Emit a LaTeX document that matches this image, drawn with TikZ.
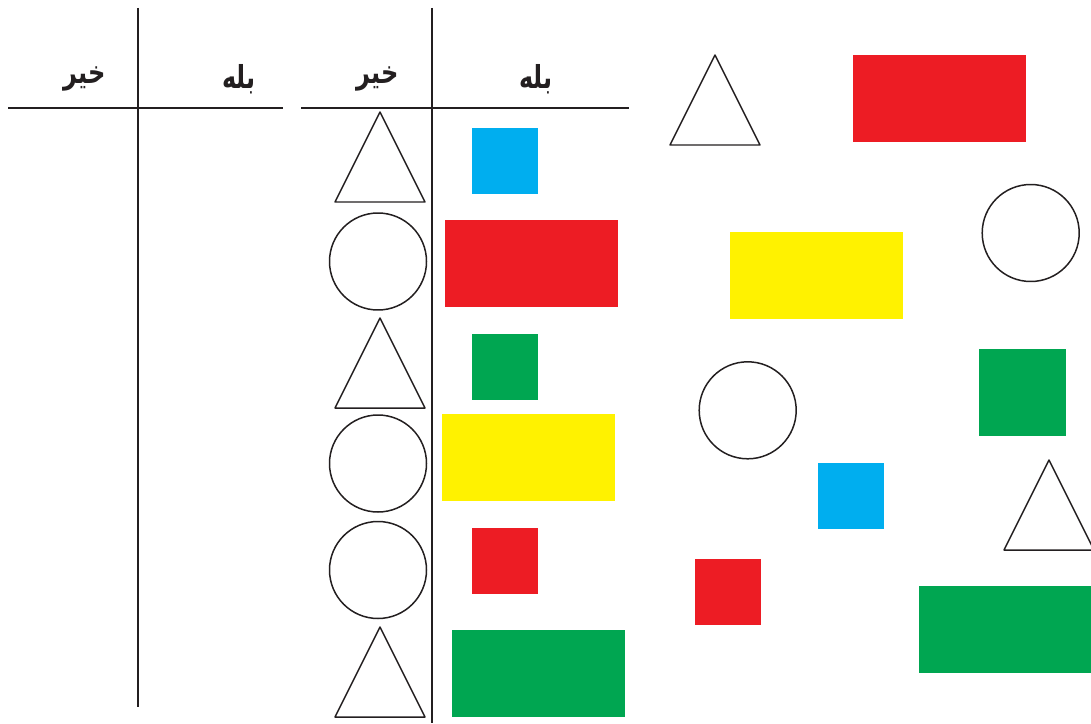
\documentclass[tikz,border=0pt]{standalone}
\usepackage{fontspec}
\newfontfamily\arabicfont[Script=Arabic]{DejaVu Sans}
\TeXXeTstate=1
\definecolor{sred}{HTML}{ED1C24}
\definecolor{syellow}{HTML}{FFF200}
\definecolor{sgreen}{HTML}{00A651}
\definecolor{sblue}{HTML}{00AEEF}
\definecolor{sline}{HTML}{231F20}
\tikzset{
  rule/.style={draw=sline, line width=1.1pt},
  outline/.style={draw=sline, line width=0.85pt, line join=round},
  head/.style={font=\arabicfont\bfseries\fontsize{18}{20}\selectfont, text=sline, inner sep=0pt},
}
\newcommand{\tri}[3]{% apex x, apex y, name
  \draw[outline] (#1,#2) coordinate (#3) -- ++(45,90) -- ++(-90,0) -- cycle;}
\newcommand{\hd}[1]{\scalebox{0.76}[1]{\beginR #1\endR}}
\begin{document}
\begin{tikzpicture}[x=0.02cm,y=-0.02cm]
\useasboundingbox (0,0) rectangle (1091,723);
\clip (0,0) rectangle (1091,723);
% tables
\draw[rule] (138,8) -- (138,707);
\draw[rule] (8,108) -- (283,108);
\draw[rule] (432,8) -- (432,723);
\draw[rule] (301,108) -- (629,108);
% headers
\node[head] (h1) at (85,79) {\hd{خیر}};
\node[head] (h2) at (239,79) {\hd{بله}};
\node[head] (h3) at (378,79) {\hd{خیر}};
\node[head] (h4) at (536,79) {\hd{بله}};
% right column of table
\tri{380}{112}{t1}
\draw[outline] (378,261.5) circle (48.5);
\tri{380}{318}{t2}
\draw[outline] (378,463.5) circle (48.5);
\draw[outline] (378,570) circle (48.5);
\tri{380}{627}{t3}
\fill[sblue] (472,128) rectangle (538,194);
\fill[sred] (445,220) rectangle (618,307);
\fill[sgreen] (472,334) rectangle (538,400);
\fill[syellow] (442,414) rectangle (615,501);
\fill[sred] (472,528) rectangle (538,594);
\fill[sgreen] (452,630) rectangle (625,717);
% loose shapes
\tri{715}{55}{t4}
\fill[sred] (853,55) rectangle (1026,142);
\draw[outline] (1030.7,233) circle (48.5);
\fill[syellow] (730,232) rectangle (903,319);
\draw[outline] (747.7,410.3) circle (48.5);
\fill[sgreen] (979,349) rectangle (1066,436);
\fill[sblue] (818,463) rectangle (884,529);
\tri{1049}{460}{t5}
\fill[sred] (695,559) rectangle (761,625);
\fill[sgreen] (919,586) rectangle (1092,673);
\end{tikzpicture}
\end{document}
